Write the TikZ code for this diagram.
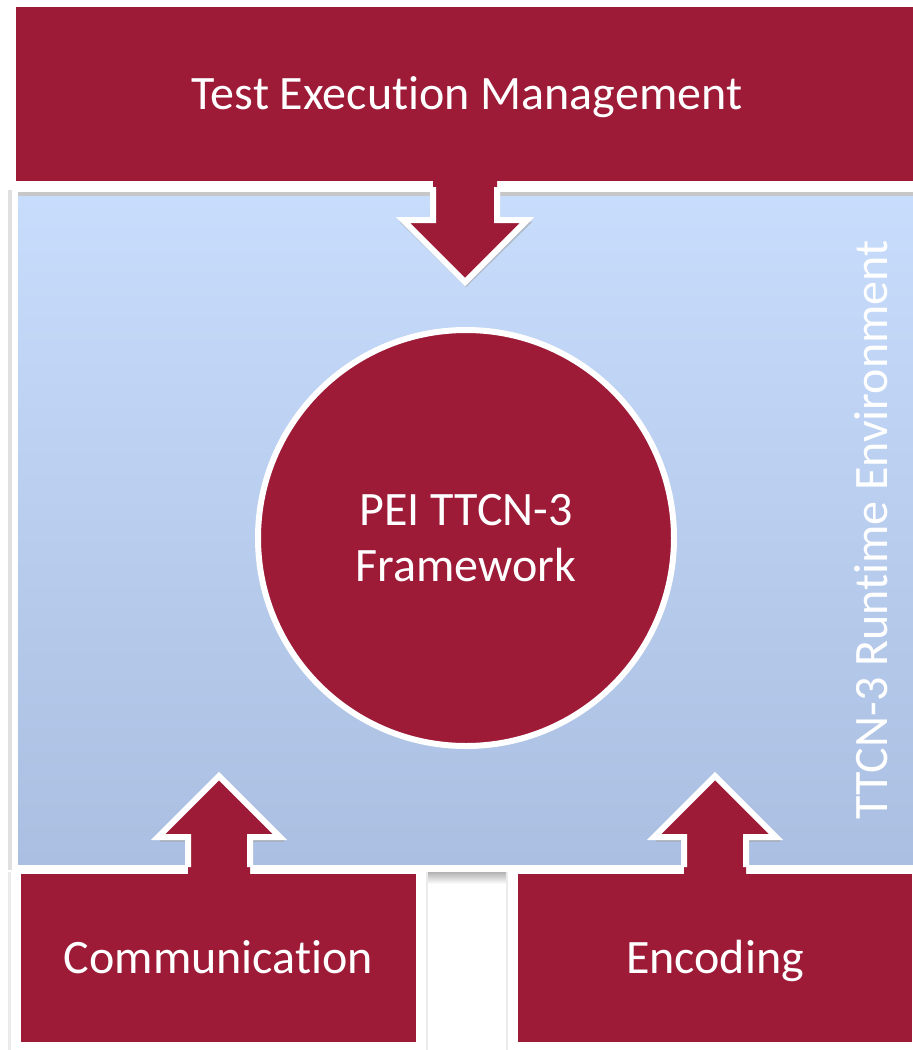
\documentclass[tikz,border=0pt]{standalone}
\usepackage{fontspec}
\setmainfont{Carlito}[Ligatures={NoCommon}]
\usetikzlibrary{positioning}

\definecolor{ttcnred}{RGB}{158,27,56}
\definecolor{envtop}{RGB}{200,220,252}
\definecolor{envbot}{RGB}{170,191,225}

\tikzset{
  block/.style={rectangle, fill=ttcnred, draw=white, line width=4pt,
    text=white, inner sep=0pt, text height=31pt, text depth=0pt,
    font=\fontsize{48}{56}\selectfont},
  core/.style={circle, fill=ttcnred, draw=white, line width=6pt,
    text=white, align=center, inner sep=0pt, font=\fontsize{48}{56}\selectfont},
  arrowbody/.style={fill=ttcnred},
  arrowrim/.style={draw=white, line width=6pt, line join=miter},
  arrowshade/.style={draw=black!35, line width=3pt, opacity=0.6}
}

\begin{document}
\begin{tikzpicture}[x=1pt, y=-1pt]
    \useasboundingbox (0,0) rectangle (913,1050);
    \fill[white] (0,0) rectangle (913,1050);

    % =================================================================
    % 1. RUNTIME ENVIRONMENT PANEL
    % =================================================================
    % faint shadow along the left side
    \fill[black!12] (8,190) rectangle (12,870);
    \fill[black!8] (8,872) rectangle (11,1050);
    \shade[top color=envtop, bottom color=envbot] (18,195) rectangle (913,864);
    % shadow under the top bar
    \fill[black!22] (18,192) rectangle (913,196);
    % gap between the two lower boxes
    \shade[top color=black!30, bottom color=white] (427,872) rectangle (507,884);
    \fill[black!8] (426,872) rectangle (428,1050);
    \fill[black!8] (506,872) rectangle (508,1050);

    \node[rotate=90, text=white, text height=31pt, text depth=0pt, inner sep=0pt,
        font=\fontsize{48}{56}\selectfont] (env) at (872,530)
        {TTCN-3 Runtime Environment};

    % =================================================================
    % 2. BOXES
    % =================================================================
    \node[block, minimum width=906, minimum height=178] (tem) at (467,94)
        {Test Execution Management};
    \node[block, minimum width=399, minimum height=172] (comm) at (218.5,958)
        {Communication};
    \node[block, minimum width=398, minimum height=172] (enc) at (715,958)
        {Encoding};

    % =================================================================
    % 3. BLOCK ARROWS
    % =================================================================
    % downward arrow from the top bar
    \draw[arrowshade] (433,198) -- (433,223) -- (403,223) -- (466,285) -- (529,223) -- (497,223);
    \fill[arrowbody] (433,150) -- (433,220) -- (403,220) -- (465,282)
        -- (527,220) -- (497,220) -- (497,150) -- cycle;
    \draw[arrowrim] (433,187) -- (433,220) -- (403,220) -- (465,282)
        -- (527,220) -- (497,220) -- (497,187);

    % upward arrow from Communication
    \draw[arrowshade] (160,840) -- (188,840);
    \draw[arrowshade] (251,840) -- (284,840);
    \fill[arrowbody] (188,900) -- (188,837) -- (158,837) -- (219,776)
        -- (280,837) -- (250,837) -- (250,900) -- cycle;
    \draw[arrowrim] (188,867) -- (188,837) -- (158,837) -- (219,776)
        -- (280,837) -- (250,837) -- (250,867);

    % upward arrow from Encoding
    \draw[arrowshade] (656,840) -- (684,840);
    \draw[arrowshade] (747,840) -- (780,840);
    \fill[arrowbody] (684,900) -- (684,837) -- (654,837) -- (715,776)
        -- (776,837) -- (746,837) -- (746,900) -- cycle;
    \draw[arrowrim] (684,867) -- (684,837) -- (654,837) -- (715,776)
        -- (776,837) -- (746,837) -- (746,867);

    % =================================================================
    % 4. FRAMEWORK CIRCLE
    % =================================================================
    \node[core, minimum size=416] (pei) at (466,538)
        {PEI TTCN-3\\Framework};

\end{tikzpicture}
\end{document}
